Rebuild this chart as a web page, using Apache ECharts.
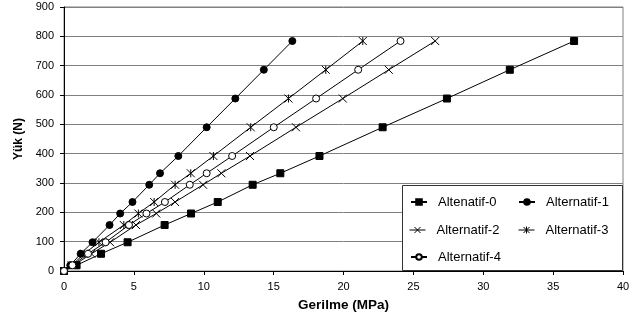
<!DOCTYPE html>
<html>
<head>
<meta charset="utf-8">
<script src="https://cdn.jsdelivr.net/npm/echarts@6/dist/echarts.min.js"></script>
<style>
html,body{margin:0;padding:0;background:#fff;}
#c{width:642px;height:322px;}
</style>
</head>
<body>
<div id="c"></div>
<script>
// Load values (N)
const loads = [0, 19.6, 58.8, 98, 156.8, 196, 235.2, 294, 333.2, 392, 490, 588, 686, 784];
// Stress values (MPa) per alternative
const alt0 = [0, 0.9, 2.65, 4.55, 7.2, 9.09, 11.0, 13.5, 15.48, 18.28, 22.8, 27.4, 31.9, 36.5];
const alt1 = [0, 0.45, 1.19, 2.04, 3.26, 4.02, 4.9, 6.1, 6.87, 8.18, 10.21, 12.26, 14.3, 16.34];
const alt2 = [0, 0.7, 1.96, 3.3, 5.15, 6.6, 7.95, 9.95, 11.26, 13.31, 16.6, 19.95, 23.24, 26.56];
const alt3 = [0, 0.55, 1.45, 2.5, 4.28, 5.32, 6.45, 7.95, 9.07, 10.69, 13.36, 16.06, 18.73, 21.38];
const alt4 = [0, 0.6, 1.72, 2.98, 4.65, 5.9, 7.22, 9.0, 10.21, 12.03, 15.01, 18.04, 21.05, 24.08];
const seriesNames = ['Altenatif-0', 'Alternatif-1', 'Alternatif-2', 'Alternatif-3', 'Alternatif-4'];
const xTicks = [0, 5, 10, 15, 20, 25, 30, 35, 40];
const yTicks = [0, 100, 200, 300, 400, 500, 600, 700, 800, 900];

const FONT = '"Liberation Sans", Arial, sans-serif';
const pair = (xs) => xs.map((x, i) => [x, loads[i]]);

const symX = 'path://M0,0L8,8M8,0L0,8';
const symStar = 'path://M0,0L8,8M8,0L0,8M4,0L4,8';
// legend icons: connecting line plus marker, drawn in a 16x7 box
const legX = 'path://M0,3.5L16,3.5M5,0.5L11,6.5M11,0.5L5,6.5';
const legStar = 'path://M0,3.5L16,3.5M5,0.5L11,6.5M11,0.5L5,6.5M8,0L8,7';

function mk(name, data, symbol, size, fill) {
  return {
    name: name,
    type: 'line',
    data: pair(data),
    symbol: symbol,
    symbolSize: size,
    showAllSymbol: true,
    lineStyle: { color: '#000', width: 1 },
    itemStyle: { color: fill, borderColor: '#000', borderWidth: 1 },
    emphasis: { disabled: true },
    animation: false
  };
}

function leg(name, left, top, icon) {
  const item = { name: name };
  if (icon) { item.icon = icon; item.itemStyle = { color: 'none', borderColor: '#000', borderWidth: 1 }; }
  return {
    z: 10, orient: 'horizontal', left: left, top: top, padding: 0,
    itemWidth: 16, itemHeight: 7,
    data: [item],
    textStyle: { fontFamily: FONT, fontSize: 13, color: '#000', padding: [0, 0, 0, 6] },
    selectedMode: false
  };
}

const chart = echarts.init(document.getElementById('c'), null, { renderer: 'canvas' });
chart.setOption({
  animation: false,
  backgroundColor: '#fff',
  textStyle: { fontFamily: FONT },
  grid: { left: 64, right: 19, top: 7, bottom: 51, show: true, borderColor: '#808080', borderWidth: 1, containLabel: false },
  xAxis: {
    type: 'value', min: xTicks[0], max: xTicks[xTicks.length - 1], interval: 5,
    name: 'Gerilme (MPa)', nameLocation: 'middle', nameGap: 27,
    nameTextStyle: { fontFamily: FONT, fontWeight: 'bold', fontSize: 13.5, color: '#000' },
    axisLine: { show: true, onZero: false, lineStyle: { color: '#000', width: 1 } },
    axisTick: { show: true, inside: false, length: 4, lineStyle: { color: '#000' } },
    axisLabel: { fontFamily: FONT, fontSize: 11, color: '#000', margin: 10 },
    splitLine: { show: false }
  },
  yAxis: {
    type: 'value', min: yTicks[0], max: yTicks[yTicks.length - 1], interval: 100,
    name: 'Yük (N)', nameLocation: 'middle', nameGap: 33,
    nameTextStyle: { fontFamily: FONT, fontWeight: 'bold', fontSize: 12, color: '#000' },
    axisLine: { show: true, onZero: false, lineStyle: { color: '#000', width: 1 } },
    axisTick: { show: true, inside: false, length: 4, lineStyle: { color: '#000' } },
    axisLabel: { fontFamily: FONT, fontSize: 11, color: '#000', margin: 10 },
    splitLine: { show: true, lineStyle: { color: '#808080', width: 1 } }
  },
  graphic: [{
    type: 'rect', z: 3,
    shape: { x: 402.5, y: 185.5, width: 220, height: 85 },
    style: { fill: '#fff', stroke: '#333', lineWidth: 1 }
  }],
  legend: [
    leg(seriesNames[0], 410, 195.5),
    leg(seriesNames[1], 518, 195.5),
    leg(seriesNames[2], 407, 223.5, legX),
    leg(seriesNames[3], 516, 223.5, legStar),
    leg(seriesNames[4], 410, 250.5)
  ],
  series: [
    mk(seriesNames[0], alt0, 'rect', 7, '#000'),
    mk(seriesNames[1], alt1, 'circle', 7, '#000'),
    mk(seriesNames[2], alt2, symX, 8, 'none'),
    mk(seriesNames[3], alt3, symStar, 8, 'none'),
    mk(seriesNames[4], alt4, 'circle', 7, '#fff')
  ]
});
</script>
</body>
</html>
